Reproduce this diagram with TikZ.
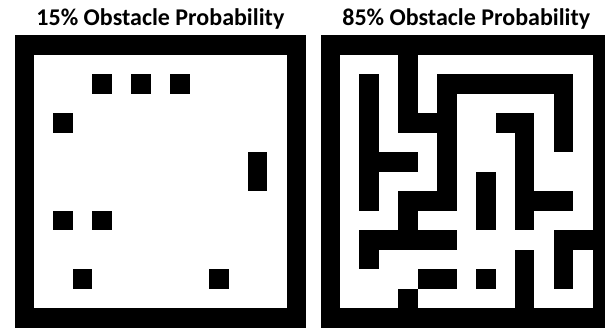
\documentclass[tikz,border=0pt]{standalone}
\usepackage{fontspec}
\setmainfont{Carlito}
\begin{document}
\begin{tikzpicture}[x=0.75pt,y=-0.75pt]
  \tikzset{gridtitle/.style={font=\fontsize{18}{20}\selectfont\bfseries, anchor=base, inner sep=0pt}}
  \useasboundingbox (0,0) rectangle (605,328);
  \clip (0,0) rectangle (605,328);

  % left map: 15 percent
  \begin{scope}[shift={(14.56,35.5)}, x=14.5875pt, y=-14.6025pt]
    \fill[black] (0,0) rectangle (15,15);
    \fill[white] (1,1) rectangle (14,14);
    \foreach \c/\r/\w/\h in {4/2/1/1, 6/2/1/1, 8/2/1/1, 2/4/1/1, 12/6/1/2,
                             2/9/1/1, 4/9/1/1, 3/12/1/1, 10/12/1/1}
      \fill[black] (\c,\r) rectangle ++(\w,\h);
  \end{scope}

  % right map: 85 percent
  \begin{scope}[shift={(320.5,35.5)}, x=14.5875pt, y=-14.6025pt]
    \fill[black] (0,0) rectangle (15,15);
    \fill[white] (1,1) rectangle (14,14);
    \foreach \c/\r/\w/\h in {4/1/1/4, 5/4/2/1, 2/2/1/7, 3/6/2/1, 6/2/7/1,
                             6/3/1/6, 12/3/1/3, 9/4/2/1, 10/5/1/5, 11/8/2/1,
                             4/8/2/1, 4/9/1/1, 2/10/5/1, 2/11/1/1, 8/7/1/3,
                             5/12/2/1, 8/12/1/1, 4/13/1/1, 10/11/1/3,
                             12/10/2/1, 12/11/1/2}
      \fill[black] (\c,\r) rectangle ++(\w,\h);
  \end{scope}

  \node[gridtitle] (title15) at (160.4,26) {15\% Obstacle Probability};
  \node[gridtitle] (title85) at (466.3,26) {85\% Obstacle Probability};
\end{tikzpicture}
\end{document}
